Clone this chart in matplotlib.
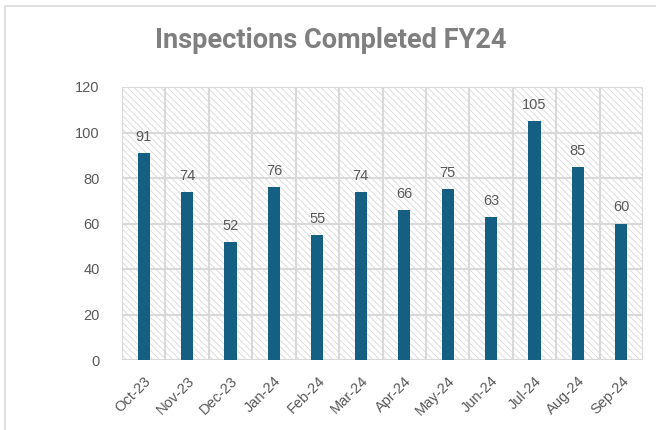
import matplotlib.pyplot as plt
from matplotlib.patches import Rectangle

months = ['Oct-23', 'Nov-23', 'Dec-23', 'Jan-24', 'Feb-24', 'Mar-24',
          'Apr-24', 'May-24', 'Jun-24', 'Jul-24', 'Aug-24', 'Sep-24']
inspections = [91, 74, 52, 76, 55, 74, 66, 75, 63, 105, 85, 60]

bar_color = '#156082'
grid_color = '#d9d9d9'
text_color = '#595959'

plt.rcParams['font.family'] = ['Liberation Sans', 'DejaVu Sans']
plt.rcParams['hatch.linewidth'] = 0.6
plt.rcParams['hatch.color'] = '#d8d8d8'

fig = plt.figure(figsize=(6.56, 4.30), dpi=100)
W, H = 656, 430

# chart border (Excel-like frame)
fig.patches.append(Rectangle((5 / W, -0.05), 1.1, 1 - 6 / H + 0.05,
                             transform=fig.transFigure, fill=False,
                             edgecolor='#d9d9d9', linewidth=1.2))

ax = fig.add_axes([122 / W, 1 - 360 / H, (643 - 122) / W, (360 - 87) / H])

# hatched plot area
ax.add_patch(Rectangle((0, 0), 1, 1, transform=ax.transAxes, facecolor='white',
                       hatch='\\\\\\\\\\', linewidth=0, zorder=0))

x = list(range(len(months)))
bars = ax.bar(x, inspections, width=0.28, color=bar_color, zorder=3)

for xi, v in zip(x, inspections):
    ax.text(xi, v + 4, str(v), ha='center', va='bottom', fontsize=10.5, color=text_color)

ax.set_xlim(-0.5, len(months) - 0.5)
ax.set_ylim(0, 120)
ax.set_yticks(range(0, 121, 20))

# gridlines
for y in range(0, 121, 20):
    ax.axhline(y, color=grid_color, linewidth=1.5, zorder=1)
for b in range(len(months) + 1):
    ax.axvline(b - 0.5, color=grid_color, linewidth=1.5, zorder=1)

for s in ax.spines.values():
    s.set_visible(False)

ax.set_xticks(x)
ax.set_xticklabels(months, rotation=45, ha='right', rotation_mode='anchor',
                   fontsize=10.5, color=text_color)
ax.tick_params(axis='both', length=0, labelsize=10.5, labelcolor=text_color)
ax.tick_params(axis='y', pad=16)
ax.tick_params(axis='x', pad=10)

fig.text(331 / W, 1 - 40 / H, 'Inspections Completed FY24', ha='center', va='center',
         fontsize=19.5, fontweight='bold', color='#7f7f7f', family='Roboto')

fig.savefig('out.png', dpi=100)
